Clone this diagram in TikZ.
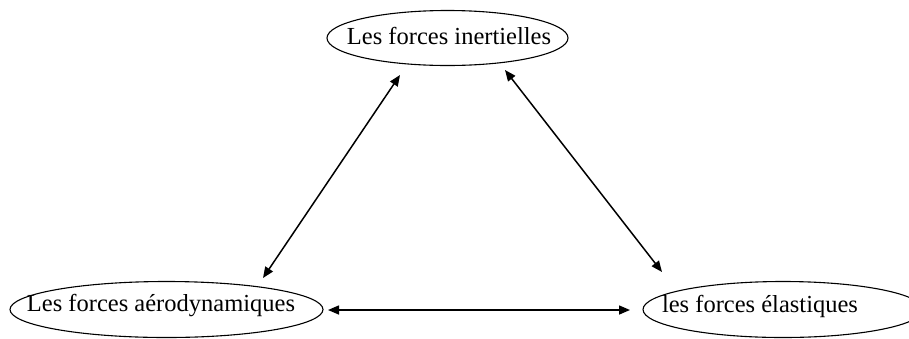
\documentclass[tikz,border=0pt]{standalone}
\usepackage{fontspec}
\setmainfont{Liberation Serif}
\usetikzlibrary{shapes.geometric,arrows.meta,calc}
\begin{document}
\begin{tikzpicture}[x=1pt,y=-1pt,
  oval/.style={draw,ellipse,inner sep=0pt,line width=1.1pt},
  txt/.style={inner sep=0pt,font=\fontsize{24.5}{28}\selectfont},
  link/.style={line width=1.5pt,{Triangle[length=11pt,width=9pt]}-{Triangle[length=11pt,width=9pt]}}]
\useasboundingbox (0,0) rectangle (909,338);
\node[oval,minimum width=241pt,minimum height=55pt] (top) at (447.5,38) {};
\node[oval,minimum width=313pt,minimum height=56pt] (left) at (166.5,309.5) {};
\node[oval,minimum width=280pt,minimum height=56pt] (right) at (783,309.5) {};
\node[txt] (ttop) at (449,36) {Les forces inertielles};
\node[txt] (tleft) at (161,306) {Les forces aérodynamiques};
\node[txt] (tright) at (760,306) {les forces élastiques};
\coordinate (a1) at ($(top)+(-47.5,37)$);
\coordinate (a2) at ($(top)+(57.5,32)$);
\coordinate (b1) at ($(left)+(96.5,-31.5)$);
\coordinate (b2) at ($(left)+(161.5,0.5)$);
\coordinate (c1) at ($(right)+(-121,-37.5)$);
\coordinate (c2) at ($(right)+(-153,0.5)$);
\draw[link] (a1) -- (b1);
\draw[link] (a2) -- (c1);
\draw[link] (b2) -- (c2);
\end{tikzpicture}
\end{document}
